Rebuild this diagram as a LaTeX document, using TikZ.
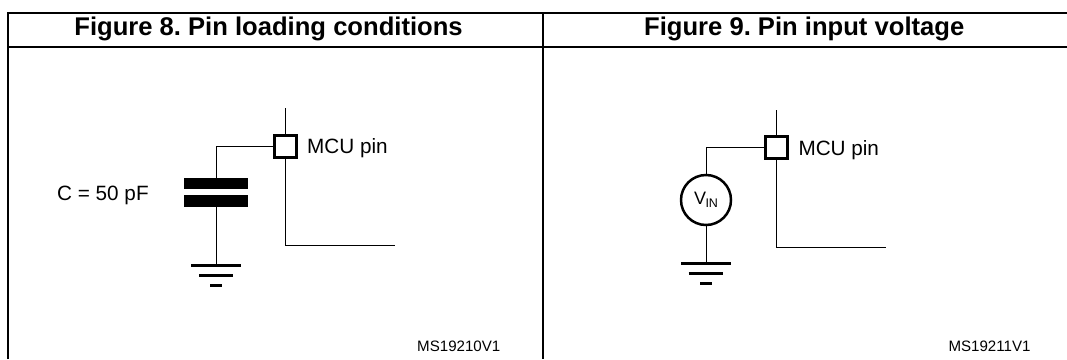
\documentclass[tikz,border=0pt]{standalone}
\usepackage{fontspec}
\setmainfont{Liberation Sans}
\usetikzlibrary{calc}
\frenchspacing
\begin{document}
\begin{tikzpicture}[x=1pt,y=-1pt,
  frame/.style={line width=2pt},
  wire/.style={line width=1pt},
  gndline/.style={line width=3pt},
  pinbox/.style={draw,line width=3pt,minimum size=22pt,inner sep=0pt},
  plate/.style={fill=black,minimum width=64pt,minimum height=11.5pt,inner sep=0pt},
  source/.style={draw,circle,line width=2.5pt,minimum size=50pt,inner sep=0pt},
  lbl/.style={anchor=base west,inner sep=0pt,font=\fontsize{20.7}{25}\selectfont},
  code/.style={anchor=base west,inner sep=0pt,font=\fontsize{15.1}{18}\selectfont},
  title/.style={anchor=base,inner sep=0pt,font=\bfseries\fontsize{25.6}{30}\selectfont}]
\useasboundingbox (0,0) rectangle (1067,359);
% frame
\draw[frame] (8.3,359) -- (8.3,12.7) -- (1067,12.7);
\draw[frame] (8.3,46.7) -- (1067,46.7);
\draw[frame] (543,12.7) -- (543,359);
\node[title] (t8) at (268.5,35.5) {Figure 8. Pin loading conditions};
\node[title] (t9) at (804.2,35.5) {Figure 9. Pin input voltage};
% ---- Figure 8
\node[pinbox] (pinA) at (285.5,146) {};
\coordinate (topA) at (285.5,108);
\coordinate (outA) at (395,245);
\node[plate] (plateA1) at (216,183.5) {};
\node[plate] (plateA2) at (216,201) {};
\coordinate (gndA) at (216,265);
\draw[wire] (topA) -- (pinA.north);
\draw[wire] (pinA.west) -| (plateA1.north);
\draw[wire] (plateA2.south) -- (gndA);
\draw[wire] (pinA.south) |- (outA);
\draw[gndline] ($(gndA)+(-25,0)$) -- ($(gndA)+(25,0)$);
\draw[gndline] ($(gndA)+(-17,10.5)$) -- ($(gndA)+(17,10.5)$);
\draw[gndline] ($(gndA)+(-6,20)$) -- ($(gndA)+(6,20)$);
\node[lbl] (mcuA) at (307,153.5) {MCU pin};
\node[lbl] (capA) at (57,200.5) {C = 50 pF};
\node[code] (msA) at (417,351.5) {MS19210V1};
% ---- Figure 9
\node[pinbox] (pinB) at (776.7,147.3) {};
\coordinate (topB) at (776.7,110);
\coordinate (outB) at (886,247);
\node[source] (vin) at (706,200) {\fontsize{18}{21}\selectfont V\kern-0.5pt\raisebox{-3pt}{\fontsize{12.5}{15}\selectfont IN}};
\coordinate (gndB) at (706,263);
\draw[wire] (topB) -- (pinB.north);
\draw[wire] (pinB.west) -| (vin.north);
\draw[wire] (vin.south) -- (gndB);
\draw[wire] (pinB.south) |- (outB);
\draw[gndline] ($(gndB)+(-25,0)$) -- ($(gndB)+(25,0)$);
\draw[gndline] ($(gndB)+(-17.3,10)$) -- ($(gndB)+(17.3,10)$);
\draw[gndline] ($(gndB)+(-6,20)$) -- ($(gndB)+(6,20)$);
\node[lbl] (mcuB) at (798.3,155) {MCU pin};
\node[code] (msB) at (948.3,351.5) {MS19211V1};
\end{tikzpicture}
\end{document}
